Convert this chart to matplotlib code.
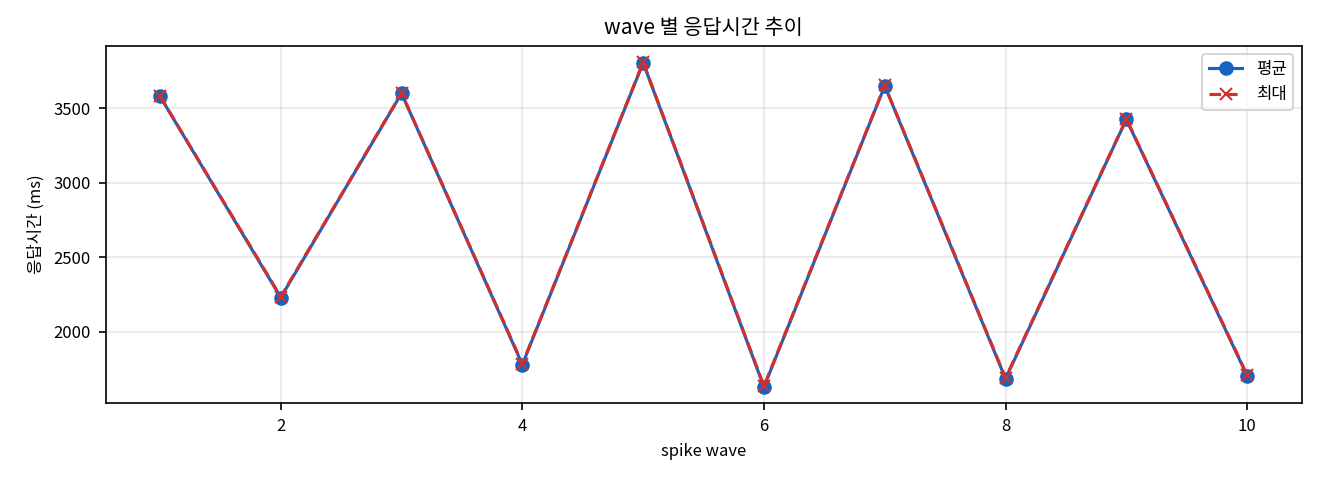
import matplotlib
matplotlib.use("Agg")
import matplotlib.pyplot as plt

plt.rcParams["font.family"] = ["Noto Sans CJK KR", "DejaVu Sans"]
plt.rcParams["axes.unicode_minus"] = False

waves = [1, 2, 3, 4, 5, 6, 7, 8, 9, 10]
avg_ms = [3580, 2230, 3600, 1780, 3805, 1630, 3650, 1685, 3425, 1705]
max_ms = [3582, 2235, 3602, 1785, 3808, 1635, 3653, 1690, 3428, 1710]

fig, ax = plt.subplots(figsize=(8.8, 3.2), dpi=150)
ax.plot(waves, avg_ms, marker="o", color="#1565C0", label="평균")
ax.plot(waves, max_ms, marker="x", linestyle="--", color="#D32F2F", label="최대")
ax.set_title("wave 별 응답시간 추이", fontsize=10)
ax.set_xlabel("spike wave", fontsize=8)
ax.set_ylabel("응답시간 (ms)", fontsize=8)
ax.tick_params(labelsize=8)
ax.grid(True, alpha=0.3)
ax.legend(loc="upper right", fontsize=8)
fig.subplots_adjust(left=0.08, right=0.986, top=0.904, bottom=0.16)
fig.savefig("out.png", dpi=150)
